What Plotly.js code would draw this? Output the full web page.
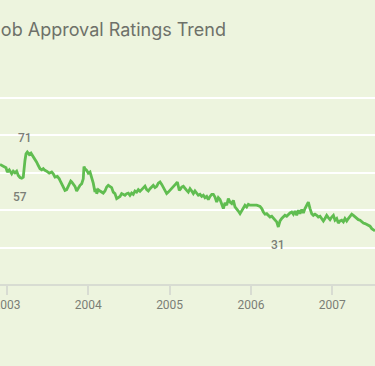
<!DOCTYPE html>
<html>
<head>
<meta charset="utf-8">
<script src="https://cdn.plot.ly/plotly-3.0.1.min.js"></script>
<style>
  html, body { margin: 0; padding: 0; background: #edf4de; }
  #chart { width: 375px; height: 366px; }
</style>
</head>
<body>
<div id="chart"></div>
<script>
// Decimal year of each poll reading
const years = [
  2002.914, 2002.988, 2003.004, 2003.028, 2003.058, 2003.077, 2003.098, 2003.119, 2003.139, 2003.160,
  2003.181, 2003.200, 2003.221, 2003.234, 2003.250, 2003.274, 2003.295, 2003.316, 2003.344, 2003.365,
  2003.385, 2003.406, 2003.427, 2003.446, 2003.467, 2003.488, 2003.520, 2003.550, 2003.569, 2003.590,
  2003.619, 2003.643, 2003.661, 2003.685, 2003.713, 2003.734, 2003.754, 2003.784, 2003.796, 2003.815,
  2003.836, 2003.857, 2003.877, 2003.898, 2003.919, 2003.938, 2003.947, 2003.959, 2003.980, 2004.000,
  2004.021, 2004.042, 2004.061, 2004.082, 2004.095, 2004.103, 2004.123, 2004.144, 2004.165, 2004.184,
  2004.205, 2004.226, 2004.246, 2004.267, 2004.287, 2004.307, 2004.328, 2004.349, 2004.369, 2004.390,
  2004.410, 2004.430, 2004.451, 2004.472, 2004.492, 2004.513, 2004.533, 2004.553, 2004.574, 2004.595,
  2004.615, 2004.636, 2004.657, 2004.677, 2004.697, 2004.718, 2004.738, 2004.759, 2004.780, 2004.799,
  2004.820, 2004.841, 2004.861, 2004.882, 2004.903, 2004.923, 2004.943, 2004.964, 2004.984, 2005.005,
  2005.026, 2005.046, 2005.066, 2005.079, 2005.095, 2005.107, 2005.119, 2005.137, 2005.149, 2005.169,
  2005.189, 2005.210, 2005.230, 2005.251, 2005.272, 2005.292, 2005.312, 2005.333, 2005.353, 2005.374,
  2005.395, 2005.415, 2005.435, 2005.456, 2005.476, 2005.497, 2005.518, 2005.538, 2005.558, 2005.579,
  2005.599, 2005.620, 2005.641, 2005.661, 2005.681, 2005.702, 2005.722, 2005.743, 2005.764, 2005.784,
  2005.804, 2005.825, 2005.845, 2005.866, 2005.887, 2005.907, 2005.927, 2005.948, 2005.968, 2005.989,
  2006.030, 2006.071, 2006.112, 2006.133, 2006.153, 2006.173, 2006.194, 2006.214, 2006.235, 2006.256,
  2006.276, 2006.296, 2006.317, 2006.337, 2006.358, 2006.379, 2006.399, 2006.419, 2006.440, 2006.460,
  2006.481, 2006.502, 2006.522, 2006.542, 2006.563, 2006.583, 2006.604, 2006.625, 2006.645, 2006.665,
  2006.686, 2006.706, 2006.727, 2006.748, 2006.768, 2006.788, 2006.809, 2006.829, 2006.850, 2006.871,
  2006.891, 2006.911, 2006.932, 2006.952, 2006.973, 2006.994, 2007.014, 2007.034, 2007.055, 2007.075,
  2007.096, 2007.117, 2007.137, 2007.157, 2007.178, 2007.198, 2007.219, 2007.240, 2007.260, 2007.280,
  2007.301, 2007.321, 2007.342, 2007.363, 2007.383, 2007.403, 2007.424, 2007.444, 2007.465, 2007.486,
  2007.506, 2007.526
];

// Approval (%)
const approval = [
  64.4, 62.6, 60.3, 61.5, 59.4, 60.8, 59.9, 60.8, 58.5, 57.4,
  57, 57.6, 66.5, 70, 71, 69.7, 70.4, 69.1, 67.4, 65.6,
  63.8, 62.1, 61.5, 62.1, 61.2, 60.8, 59.7, 60.3, 59.4, 57.6,
  58, 56.7, 55, 53.2, 50.5, 50.9, 52.7, 55.5, 55, 53.7,
  52.7, 50.2, 52, 53.2, 54.1, 56.7, 63.3, 62.1, 61.2, 59.7,
  60.3, 57.6, 54.4, 49.6, 51.4, 48.8, 50.9, 50.2, 49.6, 49.1,
  50.2, 52.3, 53.2, 52.7, 52, 49.6, 48.8, 46.1, 46.6, 47.3,
  48.8, 48.4, 47.9, 48.8, 49.1, 47.9, 49.1, 48.4, 50.2, 49.6,
  50.9, 50, 51, 51.8, 52.8, 50.9, 50.2, 51.4, 52.7, 53.2,
  52, 52.7, 54.4, 55, 53.7, 52.3, 50.2, 48.8, 49.6, 50.5,
  51.4, 52.3, 53.2, 54.1, 55, 52.3, 50.5, 51.4, 52.3, 52.7,
  51.4, 50.5, 49.6, 51.4, 50.2, 48.8, 50.2, 49.1, 47.9, 48.4,
  47.3, 47.9, 46.6, 47.3, 45.6, 47.3, 48.4, 48.4, 47, 44.3,
  46.6, 45.6, 43.1, 40.8, 43.8, 42.6, 46.1, 44.3, 43.5, 45.2,
  41.7, 40.8, 39.5, 38.1, 39.5, 40.8, 42.6, 41.7, 43.1, 42.6,
  42.6, 42.6, 42, 40.8, 39, 37.8, 38.1, 37.2, 36.3, 36.7,
  35.5, 34.9, 33.7, 31, 34.2, 35.5, 36.3, 37.2, 36.7, 37.8,
  38.5, 39, 37.8, 39.5, 37.2, 39.9, 38.1, 40.3, 38.5, 40.8,
  42.6, 44.3, 40.8, 38.1, 37.2, 37.8, 37.2, 36.3, 36.7, 35.5,
  34.2, 35.5, 37.2, 36, 34.9, 36.3, 37.2, 34.6, 35.5, 33.1,
  34.2, 34.6, 33.7, 35.5, 34.2, 35.5, 36.7, 37.8, 37.2, 36.3,
  35.5, 34.9, 34.6, 33.7, 33.1, 32.8, 32.4, 31.9, 31.4, 30.1,
  29.6, 28.9
];

const tickYears = [2003, 2004, 2005, 2006, 2007];
const tickLabels = ["2003", "2004", "2005", "2006", "2007"];
const gridValues = [0, 20, 40, 60, 80, 100];

// Labelled readings: [year, value]
const labelYears  = [2003.250, 2003.181, 2006.337];
const labelValues = [71, 57, 31];
const labelShiftX = [-2, -2, 0];
const labelShiftY = [14, -19, -18];

const titleText = "Bush Job Approval Ratings Trend";

const bg = "#edf4de";
const grey = "#7b7e76";

const annotations = labelYears.map((yr, k) => ({
  x: yr, y: labelValues[k], xref: "x", yref: "y",
  text: String(labelValues[k]), showarrow: false,
  xshift: labelShiftX[k], yshift: labelShiftY[k],
  font: { family: "Roboto, sans-serif", size: 12, color: grey, weight: 500 }
}));

const trace = {
  x: years, y: approval, type: "scatter", mode: "lines",
  line: { color: "#60bd50", width: 2.8, shape: "linear" },
  hoverinfo: "x+y"
};

const layout = {
  width: 375, height: 366,
  margin: { l: 0, r: 0, t: 79, b: 81 },
  paper_bgcolor: bg, plot_bgcolor: bg,
  showlegend: false,
  title: {
    text: titleText,
    xref: "container", yref: "container",
    x: 226 / 375, xanchor: "right",
    y: 1 - 30 / 366, yanchor: "middle",
    font: { family: "Inter, Roboto, sans-serif", size: 18, color: "#6e7169" }
  },
  xaxis: {
    range: [2002.914, 2007.526],
    tickmode: "array", tickvals: tickYears, ticktext: tickLabels,
    showgrid: false, zeroline: false,
    showline: false,
    ticks: "outside", ticklen: 9, tickwidth: 2, tickcolor: "#d8dcd2",
    ticklabeloverflow: "allow",
    tickfont: { family: "Roboto, sans-serif", size: 12, color: grey },
    fixedrange: true
  },
  yaxis: {
    range: [0, 110],
    tickmode: "array", tickvals: gridValues,
    showticklabels: false,
    showgrid: true, gridcolor: "#ffffff", gridwidth: 2,
    zeroline: true, zerolinecolor: "#d8dcd2", zerolinewidth: 2,
    showline: false, ticks: "",
    fixedrange: true
  },
  annotations: annotations
};

Plotly.newPlot("chart", [trace], layout, { displayModeBar: false, staticPlot: true });
</script>
</body>
</html>
